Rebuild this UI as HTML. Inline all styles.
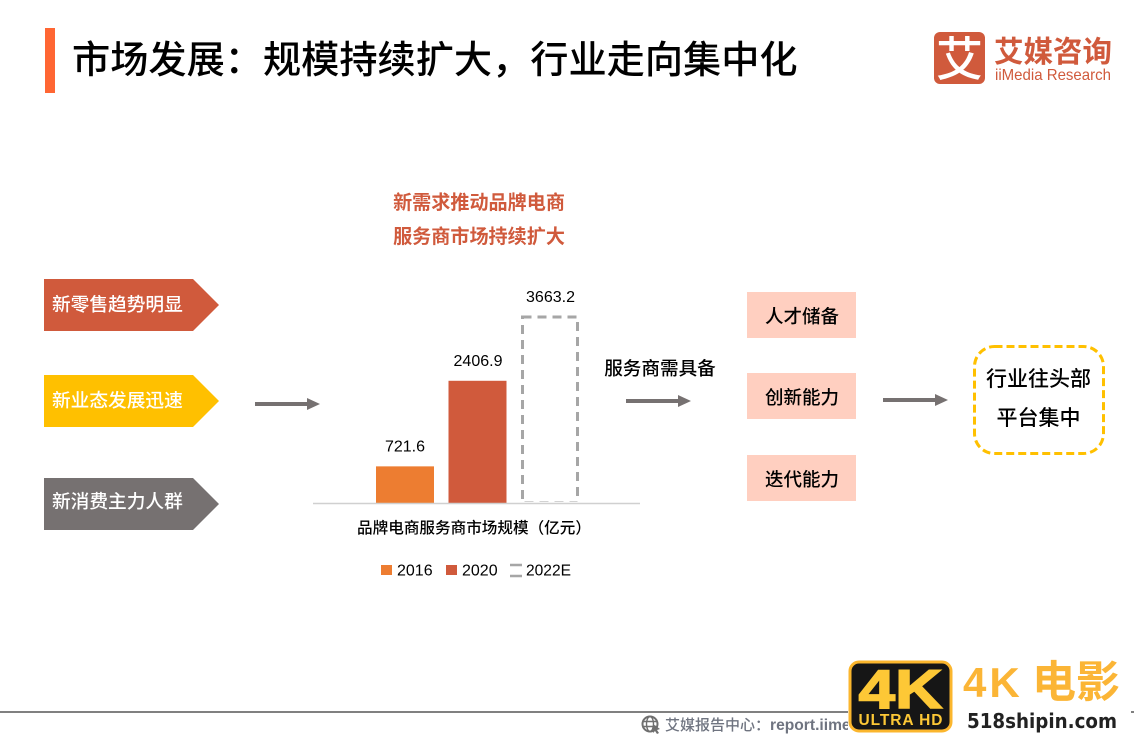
<!DOCTYPE html>
<html lang="zh">
<head>
<meta charset="utf-8">
<title>市场发展</title>
<style>
html,body{margin:0;padding:0;background:#fff;width:1134px;height:737px;overflow:hidden}
svg{display:block;position:absolute;left:0;top:0}
text{font-family:"Liberation Sans","Noto Sans CJK SC",sans-serif}
</style>
</head>
<body>
<svg id="slide" width="1134" height="737" viewBox="0 0 1134 737" xmlns="http://www.w3.org/2000/svg">
  <rect x="45" y="28" width="10" height="65" fill="#ff6633"/>
  <text x="72" y="73" font-size="38.2" font-weight="500" fill="#000">市场发展：规模持续扩大，行业走向集中化</text>

  <g>
    <rect x="934" y="32" width="51" height="52" rx="6" fill="#d05a3c"/>
    <text x="959.5" y="76" font-size="47" font-weight="500" fill="#fff" text-anchor="middle">艾</text>
    <text x="994" y="62" font-size="29.5" font-weight="700" fill="#d05a3c">艾媒咨询</text>
    <text x="995" y="80" font-size="15.6" fill="#d05a3c" textLength="116" lengthAdjust="spacingAndGlyphs">iiMedia Research</text>
  </g>

  <text x="479" y="209" font-size="19.1" font-weight="700" fill="#d05a3c" text-anchor="middle">新需求推动品牌电商</text>
  <text x="479" y="243" font-size="19.1" font-weight="700" fill="#d05a3c" text-anchor="middle">服务商市场持续扩大</text>

  <g>
    <polygon points="44,279 193,279 219,305 193,331 44,331" fill="#d05a3c"/>
    <text x="52" y="311" font-size="18.7" font-weight="500" fill="#fff">新零售趋势明显</text>
  </g>
  <g>
    <polygon points="44,375 193,375 219,401 193,427 44,427" fill="#ffc000"/>
    <text x="52" y="407" font-size="18.7" font-weight="500" fill="#fff">新业态发展迅速</text>
  </g>
  <g>
    <polygon points="44,478 193,478 219,504 193,530 44,530" fill="#767171"/>
    <text x="52" y="508" font-size="18.7" font-weight="500" fill="#fff">新消费主力人群</text>
  </g>

  <g>
    <rect x="255" y="402" width="53" height="4" fill="#767171"/>
    <polygon points="307,398 320,404 307,410" fill="#767171"/>
  </g>

  <g id="chart"></g>
  <text x="474" y="533" font-size="15.6" font-weight="500" fill="#000" text-anchor="middle">品牌电商服务商市场规模（亿元）</text>
  <g id="legend"></g>

  <text x="660" y="375" font-size="18.6" font-weight="500" fill="#000" text-anchor="middle">服务商需具备</text>
  <g>
    <rect x="626" y="399" width="53" height="4" fill="#767171"/>
    <polygon points="678,395 691,401 678,407" fill="#767171"/>
  </g>

  <g>
    <rect x="747" y="292" width="109" height="46" fill="#ffcfc0"/>
    <text x="802" y="323" font-size="18.5" font-weight="500" fill="#000" text-anchor="middle">人才储备</text>
  </g>
  <g>
    <rect x="747" y="373" width="109" height="46" fill="#ffcfc0"/>
    <text x="802" y="404" font-size="18.5" font-weight="500" fill="#000" text-anchor="middle">创新能力</text>
  </g>
  <g>
    <rect x="747" y="455" width="109" height="46" fill="#ffcfc0"/>
    <text x="802" y="486" font-size="18.5" font-weight="500" fill="#000" text-anchor="middle">迭代能力</text>
  </g>

  <g>
    <rect x="883" y="398" width="53" height="4" fill="#767171"/>
    <polygon points="935,394 948,400 935,406" fill="#767171"/>
  </g>

  <g>
    <rect x="974.5" y="346.5" width="129" height="107" rx="20" fill="#fff" stroke="#ffc000" stroke-width="3" stroke-dasharray="8 4"/>
    <text x="1038.5" y="386" font-size="21" font-weight="500" fill="#000" text-anchor="middle">行业往头部</text>
    <text x="1038.5" y="425" font-size="21" font-weight="500" fill="#000" text-anchor="middle">平台集中</text>
  </g>

  <g>
    <rect x="0" y="711" width="850" height="2" fill="#808080"/>
    <rect x="1131" y="711" width="3" height="2" fill="#808080"/>
    <g fill="none" stroke="#6f6f6f" stroke-width="2">
      <circle cx="650" cy="724" r="7.5"/>
      <ellipse cx="650" cy="724" rx="3.5" ry="7.5" stroke-width="1.4"/>
      <path d="M643 721.5H657M643 726.5H657" stroke-width="1.4"/>
    </g>
    <polygon points="653,724 660,729 657,730 659,733 657,734 655,731 653,733" fill="#6f6f6f"/>
    <text x="665" y="730" font-size="15" font-weight="500" fill="#6f7480">艾媒报告中心：<tspan font-weight="700" font-size="15.6">report.iimedia.cn</tspan></text>
  </g>

  <g>
    <rect x="848" y="660" width="105" height="73" fill="#fff"/>
    <rect x="850" y="662" width="101" height="69" rx="9" fill="#161616" stroke="#fbb62d" stroke-width="3"/>
    <text x="900.5" y="708" font-size="55" font-weight="700" fill="#fdc836" stroke="#fdc836" stroke-width="1.5" text-anchor="middle" textLength="84" lengthAdjust="spacingAndGlyphs">4K</text>
    <text x="900.5" y="725" font-size="15.5" font-weight="700" fill="#fdc836" text-anchor="middle" textLength="84">ULTRA HD</text>
    <text x="963" y="697" font-size="42" font-weight="700" fill="#fbb536" letter-spacing="3">4K</text>
    <text x="1032" y="697" font-size="44" font-weight="700" fill="#fbb536">电影</text>
    <text x="967" y="728" font-size="20" font-weight="700" fill="#222" textLength="150" lengthAdjust="spacingAndGlyphs" style="font-family:'DejaVu Sans',sans-serif">518shipin.com</text>
  </g>
</svg>

<script>
const categories = ['2016', '2020', '2022E'];
const seriesValues = [721.6, 2406.9, 3663.2];
const valueLabels = ['721.6', '2406.9', '3663.2'];
const legendLabels = ['2016', '2020', '2022E'];

const NS = 'http://www.w3.org/2000/svg';
const chart = document.getElementById('chart');
const legend = document.getElementById('legend');
const baseY = 503;
const pxPerUnit = 186 / 3663.2;
const barWidth = 58;
function xBand(i){ return 376 + i * 72.5; }
function yValue(v){ return baseY - v * pxPerUnit; }
function make(tag, attrs, parent){
  const el = document.createElementNS(NS, tag);
  for (const k in attrs) el.setAttribute(k, attrs[k]);
  parent.appendChild(el);
  return el;
}

const fills = ['#ed7d31', '#d05a3c', 'none'];
categories.forEach(function(cat, i){
  const y = yValue(seriesValues[i]);
  const dashed = fills[i] === 'none';
  const bar = make('rect', {
    x: xBand(i) + (dashed ? 1.5 : 0),
    y: y,
    width: barWidth - (dashed ? 3 : 0),
    height: baseY - y,
    fill: fills[i]
  }, chart);
  if (dashed) {
    bar.setAttribute('stroke', '#a6a6a6');
    bar.setAttribute('stroke-width', '3');
    bar.setAttribute('stroke-dasharray', '9 6');
  }
  
  

  const label = make('text', {
    x: xBand(i) + barWidth / 2 + (i === 0 ? 0 : 0.5),
    y: y - 15,
    'font-size': 16,
    fill: '#000',
    'text-anchor': 'middle'
  }, chart);
  label.textContent = valueLabels[i];
  
  
});

const axisMask = make('rect', {x: 521, y: 502, width: 60, height: 2.5, fill: '#fff'}, chart);



const axis = make('line', {x1: 313, x2: 640, y1: baseY + 0.5, y2: baseY + 0.5, stroke: '#d0d0d0', 'stroke-width': 1.5}, chart);



const legendX = [381, 446, 510];
legendLabels.forEach(function(name, i){
  const x = legendX[i];
  let swatch;
  if (i < 2) {
    swatch = make('rect', {x: x, y: 565, width: 11, height: 10, fill: fills[i]}, legend);
  } else {
    swatch = make('path', {d: 'M' + x + ' 565H522M' + x + ' 576H522', fill: 'none', stroke: '#a6a6a6', 'stroke-width': 2.5}, legend);
  }
  
  
  const text = make('text', {x: x + 16, y: 575.5, 'font-size': 16, fill: '#000'}, legend);
  text.textContent = name;
  if (i === 2) {
    text.setAttribute('textLength', '45');
    text.setAttribute('lengthAdjust', 'spacingAndGlyphs');
  }
  
  
});
</script>
</body>
</html>
